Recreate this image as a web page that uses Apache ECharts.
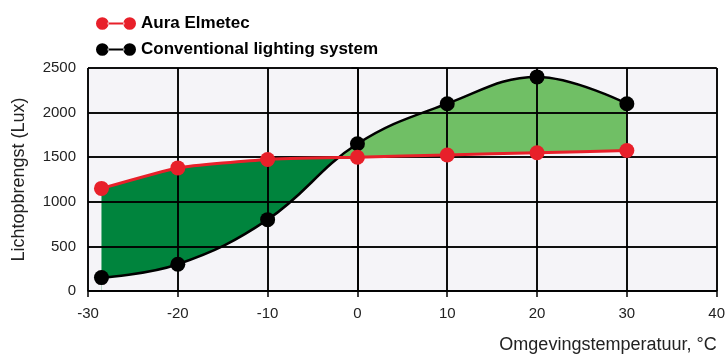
<!DOCTYPE html>
<html><head><meta charset="utf-8">
<script src="https://cdn.jsdelivr.net/npm/echarts@6/dist/echarts.min.js"></script>
<style>html,body{margin:0;padding:0;background:#fff}#c{width:728px;height:354px}</style>
</head><body><div id="c"></div>
<script>
var temps = [-28.5, -20, -10, 0, 10, 20, 30];
var auraValues = [1150, 1380, 1475, 1500, 1525, 1550, 1575];
var convValues = [150, 300, 800, 1650, 2100, 2400, 2100];
var xTicks = [-30, -20, -10, 0, 10, 20, 30, 40];
var yTicks = [0, 500, 1000, 1500, 2000, 2500];
var seriesNames = ['Aura Elmetec', 'Conventional lighting system'];
var crossX = -2.3;
var X_MIN = -30, X_MAX = 40, Y_MIN = 0, Y_MAX = 2500;

var DG = '#00843d', LG = '#70bf65', BG = '#f5f4f8', RED = '#e8202a', CLEAR = 'rgba(245,244,248,0)';
function pairs(vals){ return temps.map(function(t,i){ return [t, vals[i]]; }); }
var RED_SMOOTH = 0.15, BLK_SMOOTH = 0.4;
var iconPath = 'path://M1,7a6,6 0 1,0 12,0a6,6 0 1,0 -12,0Z M27,7a6,6 0 1,0 12,0a6,6 0 1,0 -12,0Z M12,6h16v2h-16Z';
var font = 'Liberation Sans';

function fillSeries(vals, smooth){
  return { type:'line', data: pairs(vals), smooth: smooth, showSymbol:false, symbol:'none', silent:true,
    lineStyle:{width:0, opacity:0}, areaStyle:{opacity:1}, z:1, animation:false };
}
function pieces(leftColor, rightColor){
  return [{gte:-40, lt:crossX, color:leftColor},{gte:crossX, lte:50, color:rightColor}];
}
var gridMarks = xTicks.map(function(v){ return {xAxis:v}; }).concat(yTicks.map(function(v){ return {yAxis:v}; }));

var chart = echarts.init(document.getElementById('c'), null, {renderer:'canvas'});
chart.setOption({
  animation:false,
  grid:{left:88, right:8, top:68, bottom:61, show:false, z:3},
  legend:{ data:[{name:seriesNames[0], icon:iconPath},{name:seriesNames[1], icon:iconPath}],
    orient:'vertical', left:91, top:10, itemWidth:40, itemHeight:14, itemGap:9,
    textStyle:{fontFamily:font, fontWeight:'bold', fontSize:17, color:'#000'} },
  xAxis:{ type:'value', min:X_MIN, max:X_MAX, interval:10, z:3,
    name:'Omgevingstemperatuur, °C', nameLocation:'end', nameGap:0,
    nameTextStyle:{fontFamily:font, fontSize:18, color:'#222', align:'right', verticalAlign:'top', padding:[45,0,0,0]},
    axisLine:{lineStyle:{color:'#000', width:1.5}},
    axisTick:{show:true, length:6, lineStyle:{color:'#000', width:1.5}},
    axisLabel:{fontFamily:font, fontSize:15, color:'#222', margin:15, formatter:function(v){return xTicks.indexOf(v)>=0? String(v):'';}},
    splitLine:{show:true, lineStyle:{color:'#000', width:1.5}} },
  yAxis:{ type:'value', min:Y_MIN, max:Y_MAX, interval:500, z:3,
    name:'Lichtopbrengst (Lux)', nameLocation:'middle', nameGap:60, nameRotate:90,
    nameTextStyle:{fontFamily:font, fontSize:18, color:'#222'},
    axisLine:{show:true, lineStyle:{color:'#000', width:1.5}},
    axisTick:{show:true, length:6, lineStyle:{color:'#000', width:1.5}},
    axisLabel:{fontFamily:font, fontSize:15, color:'#222', margin:12, formatter:function(v){return yTicks.indexOf(v)>=0? String(v):'';}},
    splitLine:{show:true, lineStyle:{color:'#000', width:1.5}} },
  visualMap:[
    {type:'piecewise', show:false, dimension:0, seriesIndex:1, pieces:pieces(DG, CLEAR)},
    {type:'piecewise', show:false, dimension:0, seriesIndex:2, pieces:pieces(BG, LG)},
    {type:'piecewise', show:false, dimension:0, seriesIndex:3, pieces:pieces(CLEAR, BG)}
  ],
  series:[
    { type:'line', data:[[X_MIN, Y_MAX],[X_MAX, Y_MAX]], symbol:'none', silent:true, z:0,
      lineStyle:{width:0, opacity:0}, areaStyle:{color:BG, opacity:1} },
    fillSeries(auraValues, RED_SMOOTH),
    fillSeries(convValues, BLK_SMOOTH),
    fillSeries(auraValues, RED_SMOOTH),
    { type:'line', data:[], z:3, silent:true, symbol:'none',
      markLine:{ silent:true, symbol:['none','none'], label:{show:false}, animation:false,
        lineStyle:{color:'#000', width:1.5, type:'solid'}, emphasis:{disabled:true}, data:gridMarks } },
    { name:seriesNames[0], type:'line', data:pairs(auraValues), smooth:RED_SMOOTH, symbol:'circle', symbolSize:15,
      itemStyle:{color:RED}, lineStyle:{color:RED, width:3}, z:5 },
    { name:seriesNames[1], type:'line', data:pairs(convValues), smooth:BLK_SMOOTH, symbol:'circle', symbolSize:15,
      itemStyle:{color:'#000'}, lineStyle:{color:'#000', width:2.5}, z:4 }
  ]
});
</script></body></html>
